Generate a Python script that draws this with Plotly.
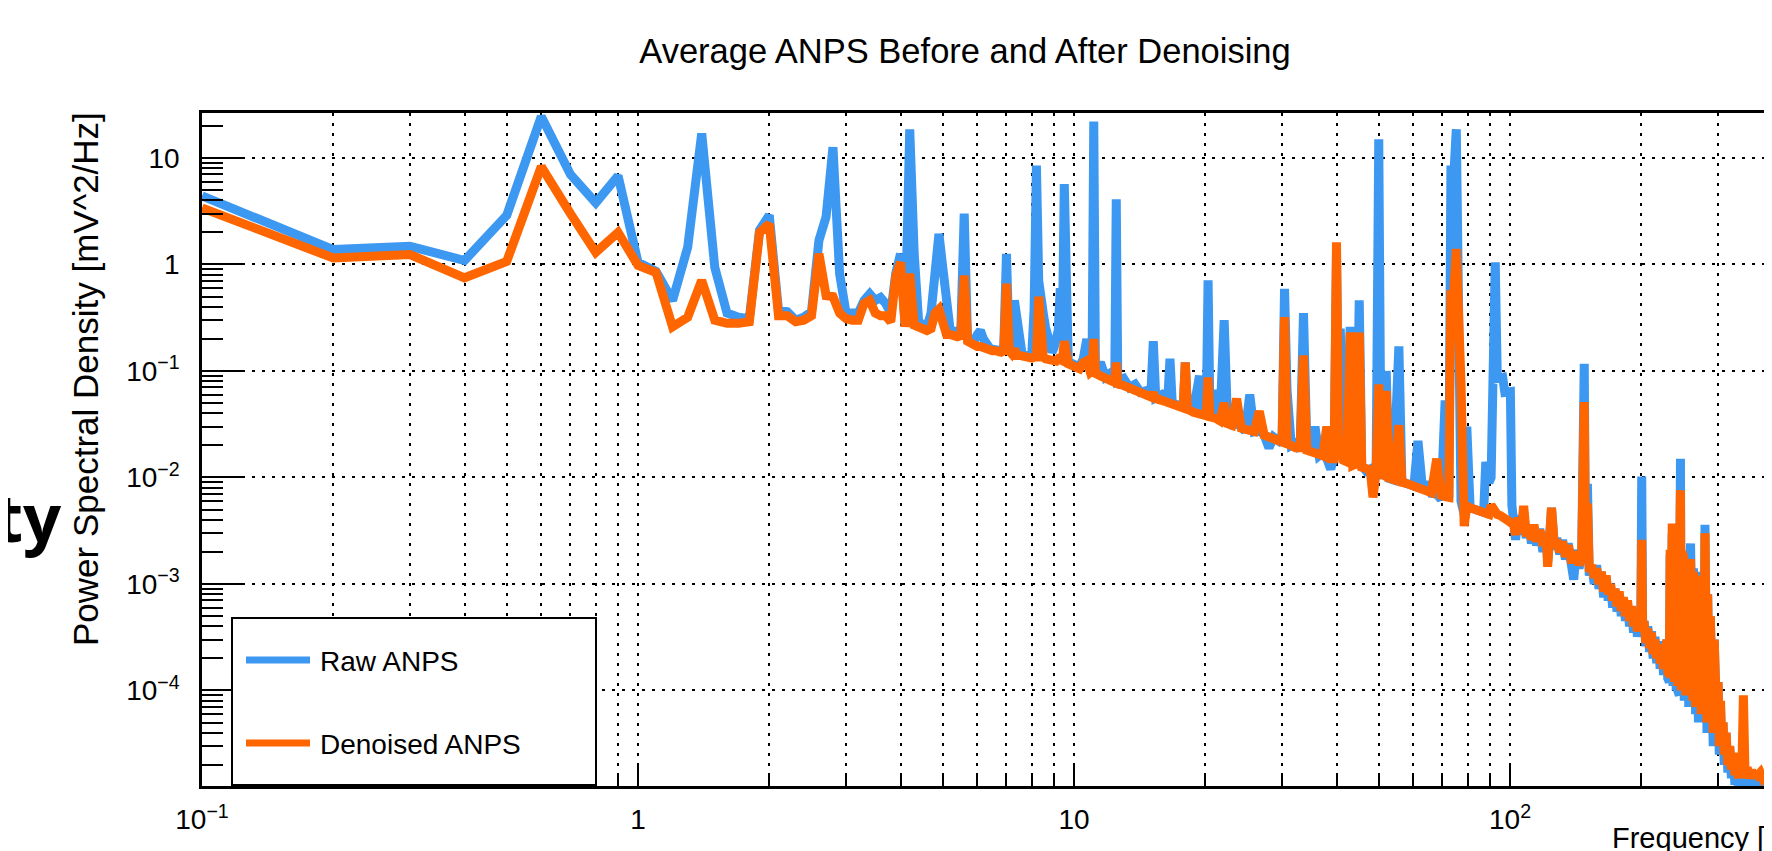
import plotly.graph_objects as go

# ---------------- data ----------------
# 0.1 Hz .. 10 Hz, one point every 0.1 Hz
FREQ_LOW = [0.1, 0.2, 0.3, 0.4, 0.5, 0.6, 0.7, 0.8, 0.9, 1.0,
            1.1, 1.2, 1.3, 1.4, 1.5, 1.6, 1.7, 1.8, 1.9, 2.0,
            2.1, 2.2, 2.3, 2.4, 2.5, 2.6, 2.7, 2.8, 2.9, 3.0,
            3.1, 3.2, 3.3, 3.4, 3.5, 3.6, 3.7, 3.8, 3.9, 4.0,
            4.1, 4.2, 4.3, 4.4, 4.5, 4.6, 4.7, 4.8, 4.9, 5.0,
            5.1, 5.2, 5.3, 5.4, 5.5, 5.6, 5.7, 5.8, 5.9, 6.0,
            6.1, 6.2, 6.3, 6.4, 6.5, 6.6, 6.7, 6.8, 6.9, 7.0,
            7.1, 7.2, 7.3, 7.4, 7.5, 7.6, 7.7, 7.8, 7.9, 8.0,
            8.1, 8.2, 8.3, 8.4, 8.5, 8.6, 8.7, 8.8, 8.9, 9.0,
            9.1, 9.2, 9.3, 9.4, 9.5, 9.6, 9.7, 9.8, 9.9, 10.0]
RAW_LOW = [4.4, 1.38, 1.48, 1.09, 2.9, 24.5, 7.0, 3.8, 6.8, 1.05,
           0.86, 0.46, 1.45, 17.0, 0.94, 0.35, 0.32, 0.31, 2.1, 2.9,
           0.37, 0.36, 0.30, 0.32, 0.36, 1.68, 2.8, 12.6, 0.82, 0.35,
           0.35, 0.35, 0.46, 0.53, 0.46, 0.49, 0.43, 0.35, 0.82, 1.26,
           0.26, 18.6, 1.26, 0.30, 0.26, 0.26, 0.35, 0.70, 1.94, 0.94,
           0.35, 0.24, 0.235, 0.24, 0.24, 3.0, 0.19, 0.20, 0.19, 0.22,
           0.24, 0.20, 0.17, 0.165, 0.16, 0.16, 0.155, 0.155, 0.165, 1.26,
           0.165, 0.15, 0.46, 0.30, 0.17, 0.145, 0.14, 0.14, 0.135, 0.14,
           0.38, 8.5, 0.7, 0.40, 0.35, 0.26, 0.21, 0.18, 0.15, 0.165,
           0.19, 0.24, 0.6, 0.19, 5.7, 0.17, 0.125, 0.12, 0.12, 0.115]
DEN_LOW = [3.4, 1.15, 1.24, 0.75, 1.07, 8.3, 3.0, 1.3, 2.0, 0.98,
           0.84, 0.26, 0.32, 0.71, 0.30, 0.28, 0.28, 0.29, 2.0, 2.4,
           0.33, 0.33, 0.29, 0.30, 0.33, 1.26, 0.51, 0.50, 0.35, 0.31,
           0.30, 0.30, 0.43, 0.46, 0.35, 0.33, 0.33, 0.29, 0.77, 1.05,
           0.26, 0.82, 0.27, 0.26, 0.25, 0.24, 0.25, 0.35, 0.38, 0.30,
           0.22, 0.22, 0.21, 0.21, 0.215, 0.79, 0.19, 0.18, 0.18, 0.17,
           0.17, 0.165, 0.16, 0.157, 0.155, 0.155, 0.15, 0.15, 0.155, 0.66,
           0.155, 0.145, 0.16, 0.14, 0.14, 0.137, 0.135, 0.135, 0.132, 0.132,
           0.135, 0.135, 0.5, 0.14, 0.135, 0.13, 0.128, 0.126, 0.124, 0.12,
           0.124, 0.13, 0.13, 0.125, 0.19, 0.12, 0.117, 0.115, 0.112, 0.11]

# 10 Hz .. 227 Hz, selected frequencies (spikes and the noisy band)
FREQ_MID = [10.3, 10.5, 10.7, 10.9, 11.0, 11.1, 11.2, 11.5, 11.8, 12.1,
            12.4, 12.5, 12.6, 13.0, 13.4, 13.8, 14.2, 14.6, 15.0, 15.2,
            15.4, 15.9, 16.4, 16.6, 16.8, 17.3, 17.8, 18.0, 18.2, 18.8,
            19.4, 19.8, 20.1, 20.3, 20.5, 21.1, 21.6, 22.1, 22.5, 23.0,
            23.6, 24.2, 24.7, 25.3, 25.9, 26.6, 27.3, 28.0, 28.7, 29.5,
            30.0, 30.4, 30.8, 31.5, 32.2, 33.0, 33.6, 34.2, 35.0, 35.7,
            36.5, 37.2, 38.0, 38.8, 39.5, 40.0, 40.5, 40.8, 41.5, 42.3,
            43.0, 43.6, 44.5, 45.1, 45.7, 46.8, 47.8, 48.5, 49.3, 50.0,
            50.6, 51.3, 52.0, 52.8, 54.0, 55.6, 56.5, 57.8, 59.0, 60.2,
            61.5, 63.0, 64.5, 66.0, 67.9, 69.5, 71.0, 72.4, 73.2, 74.2,
            75.3, 76.3, 77.2, 78.5, 79.6, 81.0, 83.0, 85.0, 87.0, 88.0,
            89.5, 90.5, 92.5, 93.5, 95.0, 96.2, 97.3, 98.8, 100.2, 101.0,
            101.5, 103.0, 104.5, 106.0, 107.5, 109.0, 110.5, 112.0, 113.5, 115.0,
            117.0, 119.0, 121.0, 122.0, 123.5, 124.5, 126.5, 128.0, 130.0, 132.0,
            134.0, 136.0, 138.0, 140.0, 142.0, 144.0, 146.0, 148.0, 149.0, 150.5,
            152.0, 154.0, 156.0, 158.0, 160.0, 162.0, 164.0, 166.0, 168.0, 170.0,
            172.0, 174.0, 176.0, 178.0, 180.0, 182.0, 184.0, 186.0, 188.0, 190.0,
            192.0, 194.0, 196.0, 198.0, 199.5, 200.5, 201.5, 203.0, 205.0, 207.0,
            209.0, 211.0, 213.0, 215.0, 217.0, 219.0, 221.0, 223.0, 225.0, 227.0]
RAW_MID = [0.11, 0.13, 0.2, 0.1, 0.11, 22.0, 0.1, 0.12, 0.088, 0.095,
           0.08, 4.1, 0.08, 0.085, 0.07, 0.075, 0.063, 0.065, 0.058, 0.19,
           0.056, 0.06, 0.052, 0.13, 0.05, 0.048, 0.047, 0.12, 0.045, 0.044,
           0.09, 0.04, 0.038, 0.71, 0.04, 0.066, 0.033, 0.30, 0.033, 0.031,
           0.032, 0.03, 0.027, 0.06, 0.027, 0.028, 0.025, 0.019, 0.024, 0.022,
           0.021, 0.59, 0.066, 0.02, 0.021, 0.018, 0.35, 0.02, 0.017, 0.03,
           0.016, 0.017, 0.015, 0.012, 0.0155, 1.2, 0.015, 0.25, 0.014, 0.015,
           0.26, 0.014, 0.013, 0.46, 0.013, 0.0115, 0.012, 0.011, 0.0112, 15.0,
           0.011, 0.010, 0.1, 0.0098, 0.0095, 0.17, 0.0092, 0.0088, 0.0085, 0.0083,
           0.022, 0.0078, 0.009, 0.0071, 0.007, 0.0062, 0.053, 0.0064, 8.5, 6.0,
           18.6, 0.08, 0.006, 0.0045, 0.03, 0.0052, 0.005, 0.0048, 0.0047, 0.014,
           0.009, 0.01, 1.05, 0.085, 0.085, 0.087, 0.063, 0.063, 0.064, 0.0055,
           0.0038, 0.0026, 0.0044, 0.0029, 0.0047, 0.0027, 0.0036, 0.0024, 0.0034, 0.0023,
           0.0033, 0.0020, 0.0031, 0.0016, 0.0030, 0.0052, 0.0021, 0.0027, 0.0019, 0.0026,
           0.0017, 0.0024, 0.0016, 0.0011, 0.0021, 0.0014, 0.0019, 0.117, 0.0018, 0.0087,
           0.0012, 0.0015, 0.0010, 0.0015, 0.0009, 0.0013, 0.00075, 0.0012, 0.0007, 0.0010,
           0.0006, 0.0009, 0.00055, 0.0008, 0.0005, 0.00075, 0.00045, 0.00066, 0.0004, 0.0006,
           0.00035, 0.00055, 0.00032, 0.00048, 0.0004, 0.0102, 0.00034, 0.00045, 0.00026, 0.0004,
           0.00023, 0.00036, 0.0002, 0.00032, 0.00018, 0.00029, 0.00016, 0.00026, 0.00014, 0.00022]
DEN_MID = [0.105, 0.12, 0.125, 0.097, 0.1, 0.2, 0.095, 0.09, 0.086, 0.082,
           0.078, 0.12, 0.077, 0.073, 0.069, 0.066, 0.062, 0.06, 0.057, 0.062,
           0.055, 0.053, 0.051, 0.05, 0.049, 0.047, 0.045, 0.12, 0.044, 0.041,
           0.04, 0.039, 0.038, 0.087, 0.037, 0.036, 0.034, 0.05, 0.032, 0.031,
           0.055, 0.029, 0.028, 0.028, 0.027, 0.042, 0.025, 0.024, 0.023, 0.022,
           0.0215, 0.32, 0.021, 0.02, 0.019, 0.019, 0.14, 0.018, 0.017, 0.017,
           0.0165, 0.016, 0.03, 0.015, 0.015, 1.62, 0.015, 0.02, 0.0145, 0.014,
           0.23, 0.013, 0.0135, 0.23, 0.0125, 0.012, 0.0118, 0.0065, 0.0112, 0.075,
           0.0108, 0.0105, 0.065, 0.0099, 0.0096, 0.031, 0.009, 0.0088, 0.0085, 0.0082,
           0.0083, 0.0078, 0.0075, 0.0072, 0.015, 0.0068, 0.0066, 0.0065, 0.57, 0.5,
           1.4, 0.076, 0.076, 0.0035, 0.0054, 0.0052, 0.005, 0.0048, 0.0046, 0.0046,
           0.0045, 0.0055, 0.0046, 0.0045, 0.0044, 0.0043, 0.0041, 0.0039, 0.0038, 0.0037,
           0.0039, 0.0029, 0.0042, 0.0030, 0.0054, 0.0028, 0.0035, 0.0026, 0.0036, 0.0025,
           0.0032, 0.0023, 0.0030, 0.00145, 0.0029, 0.0052, 0.0022, 0.0026, 0.0020, 0.0025,
           0.0018, 0.0023, 0.0017, 0.0017, 0.0020, 0.0015, 0.0018, 0.051, 0.0017, 0.0057,
           0.0013, 0.0015, 0.00115, 0.0014, 0.0010, 0.0013, 0.00085, 0.0012, 0.0008, 0.0010,
           0.0007, 0.0009, 0.00062, 0.00085, 0.00056, 0.00075, 0.0005, 0.0007, 0.00045, 0.00062,
           0.0004, 0.00055, 0.00036, 0.00046, 0.0004, 0.0026, 0.00036, 0.00044, 0.00028, 0.00038,
           0.00025, 0.00035, 0.00022, 0.0003, 0.0002, 0.00027, 0.00018, 0.00024, 0.00016, 0.00021]

# 229 Hz .. 410 Hz (dense noisy block, then the fall-off)
FREQ_HIGH = [229.0, 230.0, 231.0, 232.0, 233.0, 234.0, 235.5, 236.5, 237.5, 238.5,
             239.5, 240.5, 241.5, 242.5, 243.5, 244.5, 246.0, 247.0, 248.0, 249.0,
             250.0, 251.0, 252.0, 253.0, 254.0, 255.0, 256.0, 257.0, 258.0, 259.5,
             260.5, 261.5, 262.5, 263.5, 264.5, 265.5, 266.5, 267.5, 268.5, 269.5,
             270.5, 271.5, 272.5, 273.5, 274.5, 275.5, 276.5, 277.5, 278.5, 280.0,
             281.0, 282.0, 283.0, 284.0, 285.0, 286.0, 287.0, 288.0, 289.5, 291.0,
             292.5, 294.0, 295.5, 297.0, 298.5, 300.0, 302.0, 304.0, 306.0, 308.0,
             310.0, 313.0, 316.0, 319.0, 322.0, 325.0, 328.0, 331.0, 334.0, 337.0,
             340.0, 343.0, 346.0, 350.0, 354.0, 358.0, 362.0, 366.0, 370.0, 375.0,
             380.0, 385.0, 390.0, 395.0, 400.0, 410.0]
RAW_HIGH = [0.0003, 0.00013, 0.0014, 0.00012, 0.0019, 0.00012, 0.003, 0.00011, 0.0017, 0.00011,
            0.0021, 0.0001, 0.0018, 0.0001, 0.0016, 0.00009, 0.015, 0.00009, 0.0019, 0.00009,
            0.0017, 0.00008, 0.0016, 0.00008, 0.0015, 0.00008, 0.0016, 0.00007, 0.0014, 0.0024,
            0.00007, 0.0013, 0.00007, 0.0014, 0.00006, 0.0012, 0.00006, 0.0013, 0.00006, 0.0011,
            0.00005, 0.0012, 0.00005, 0.001, 0.00005, 0.0011, 0.00005, 0.0009, 0.00005, 0.0036,
            0.00005, 0.0009, 0.00004, 0.0008, 0.00004, 0.0007, 0.00004, 0.0005, 0.00004, 0.0004,
            0.00003, 0.0003, 0.00003, 0.0002, 0.00003, 0.00012, 0.000025, 0.00007, 0.000025, 0.00005,
            0.00002, 0.00004, 0.000017, 0.00003, 0.000015, 0.000025, 0.000013, 0.00002, 0.000012, 0.000018,
            0.000012, 0.00002, 0.000013, 0.000016, 0.000012, 0.000015, 0.000012, 0.000015, 0.000013, 0.000014,
            0.000013, 0.000014, 0.000013, 0.000014, 0.000013, 0.000014]
DEN_HIGH = [0.0003, 0.00015, 0.0016, 0.00014, 0.0021, 0.00013, 0.0037, 0.00013, 0.0019, 0.00012,
            0.0022, 0.00012, 0.0017, 0.00011, 0.0018, 0.00011, 0.0076, 0.0001, 0.002, 0.0001,
            0.0018, 0.0001, 0.0017, 0.00009, 0.0016, 0.00009, 0.0015, 0.00009, 0.0015, 0.0017,
            0.00008, 0.0014, 0.00008, 0.0013, 0.00008, 0.0013, 0.00007, 0.0012, 0.00007, 0.0012,
            0.00007, 0.0011, 0.00006, 0.0011, 0.00006, 0.001, 0.00006, 0.001, 0.00006, 0.003,
            0.00006, 0.0009, 0.00005, 0.0008, 0.00005, 0.0007, 0.00005, 0.0005, 0.00005, 0.0004,
            0.00004, 0.0003, 0.00004, 0.0002, 0.00004, 0.00012, 0.00003, 0.00008, 0.00003, 0.00005,
            0.000025, 0.00004, 0.00002, 0.00003, 0.000018, 0.000026, 0.000016, 0.000022, 0.000015, 0.00002,
            0.000015, 0.00009, 0.000016, 0.000019, 0.000015, 0.000018, 0.000015, 0.000017, 0.000016, 0.000017,
            0.000015, 0.000016, 0.000015, 0.000016, 0.000015, 0.000016]

SERIES_NAMES = ["Raw ANPS", "Denoised ANPS"]
X_TICK_VALUES = [0.1, 1, 10, 100]
X_TICK_LABELS = ["10<sup>\u22121</sup>", "1", "10", "10<sup>2</sup>"]
Y_TICK_VALUES = [1e-4, 1e-3, 1e-2, 1e-1, 1, 10]
Y_TICK_LABELS = ["10<sup>\u22124</sup>", "10<sup>\u22123</sup>", "10<sup>\u22122</sup>",
                 "10<sup>\u22121</sup>", "1", "10"]
TITLE = "Average ANPS Before and After Denoising"
Y_TITLE = "Power Spectral Density [mV^2/Hz]"
X_TITLE = "Frequency [Hz]"
SLIDE_FRAGMENT = "ty"

# ---------------- styling / layout ----------------
OFF = 8                      # default page margin of the html body
W, H = 1772 - OFF, 851 - OFF
L, T = 194, 105              # plot area: screen x 202 .. 1772, screen y 113 .. 786
B = H - (786 - OFF)
R = 0
PW, PH = W - L - R, H - T - B
BLUE = "#3d98f2"
ORANGE = "#ff6600"
FONT = "Liberation Sans, Arial, Helvetica, sans-serif"
DOT = "3px,7px"


def px_x(sx):
    """screen x pixel -> paper x"""
    return (sx - OFF - L) / PW


def px_y(sy):
    """screen y pixel -> paper y"""
    return (H - B - (sy - OFF)) / PH


freq = FREQ_LOW + FREQ_MID + FREQ_HIGH
raw = RAW_LOW + RAW_MID + RAW_HIGH
den = DEN_LOW + DEN_MID + DEN_HIGH

fig = go.Figure()
fig.add_trace(go.Scatter(x=freq, y=raw, mode="lines", name=SERIES_NAMES[0],
                         line=dict(color=BLUE, width=9)))
fig.add_trace(go.Scatter(x=freq, y=den, mode="lines", name=SERIES_NAMES[1],
                         line=dict(color=ORANGE, width=9)))

x_minor = [m * 10 ** e for e in (-1, 0, 1, 2) for m in range(2, 10)]
y_minor = [m * 10 ** e for e in (-5, -4, -3, -2, -1, 0, 1) for m in range(2, 10)]

fig.update_xaxes(
    type="log", range=[-1, 2.6009],
    showline=True, linecolor="black", linewidth=2.5, mirror=True,
    tickmode="array", tickvals=X_TICK_VALUES, ticktext=X_TICK_LABELS,
    ticks="inside", ticklen=20, tickwidth=2, tickcolor="black",
    tickfont=dict(family=FONT, size=28, color="black"),
    ticklabelstandoff=7,
    showgrid=True, gridcolor="black", gridwidth=2, griddash=DOT,
    zeroline=False,
    minor=dict(tickmode="array", tickvals=x_minor, ticks="inside", ticklen=10,
               tickwidth=2, tickcolor="black", showgrid=True, gridcolor="black",
               gridwidth=2, griddash=DOT),
)
fig.update_yaxes(
    type="log", range=[-4.897, 1.4225],
    showline=True, linecolor="black", linewidth=2.5, mirror=False,
    tickmode="array", tickvals=Y_TICK_VALUES, ticktext=Y_TICK_LABELS,
    ticks="inside", ticklen=42, tickwidth=2, tickcolor="black",
    tickfont=dict(family=FONT, size=28, color="black"),
    ticklabelstandoff=14,
    showgrid=True, gridcolor="black", gridwidth=2, griddash=DOT,
    zeroline=False,
    minor=dict(tickmode="array", tickvals=y_minor, ticks="inside", ticklen=21,
               tickwidth=2, tickcolor="black", showgrid=False),
)

# legend box drawn by hand (ROOT style)
shapes = [
    dict(type="rect", xref="paper", yref="paper", x0=px_x(232), x1=px_x(596),
         y0=px_y(785), y1=px_y(618), fillcolor="white",
         line=dict(color="black", width=2), layer="above"),
    dict(type="line", xref="paper", yref="paper", x0=px_x(246), x1=px_x(310),
         y0=px_y(660), y1=px_y(660), line=dict(color=BLUE, width=7), layer="above"),
    dict(type="line", xref="paper", yref="paper", x0=px_x(246), x1=px_x(310),
         y0=px_y(743), y1=px_y(743), line=dict(color=ORANGE, width=7), layer="above"),
]
annotations = [
    dict(text=SERIES_NAMES[0], xref="paper", yref="paper", x=px_x(318), y=px_y(661),
         xanchor="left", yanchor="middle", showarrow=False,
         font=dict(family=FONT, size=28, color="black")),
    dict(text=SERIES_NAMES[1], xref="paper", yref="paper", x=px_x(318), y=px_y(744),
         xanchor="left", yanchor="middle", showarrow=False,
         font=dict(family=FONT, size=28, color="black")),
    dict(text=Y_TITLE, xref="paper", yref="paper", x=px_x(85), y=px_y(110),
         xanchor="center", yanchor="top", textangle=-90, showarrow=False,
         font=dict(family=FONT, size=35, color="black")),
    dict(text=X_TITLE, xref="paper", yref="paper", x=px_x(1610), y=px_y(820),
         xanchor="left", yanchor="top", showarrow=False,
         font=dict(family=FONT, size=29, color="black")),
    dict(text="<b>" + SLIDE_FRAGMENT + "</b>", xref="paper", yref="paper",
         x=px_x(64), y=px_y(516), xanchor="right", yanchor="middle", showarrow=False,
         font=dict(family="Open Sans, Noto Sans, sans-serif", size=67, color="black")),
]

fig.update_layout(
    width=W, height=H, autosize=False,
    margin=dict(l=L, r=R, t=T, b=B, pad=0),
    paper_bgcolor="white", plot_bgcolor="white",
    showlegend=False,
    title=dict(text=TITLE, x=(965 - OFF) / W, xanchor="center",
               y=1 - (51 - OFF) / H, yanchor="middle",
               xref="container", yref="container",
               font=dict(family=FONT, size=34.5, color="black")),
    shapes=shapes, annotations=annotations,
)

fig.write_html("out.html", config={"displayModeBar": False})
